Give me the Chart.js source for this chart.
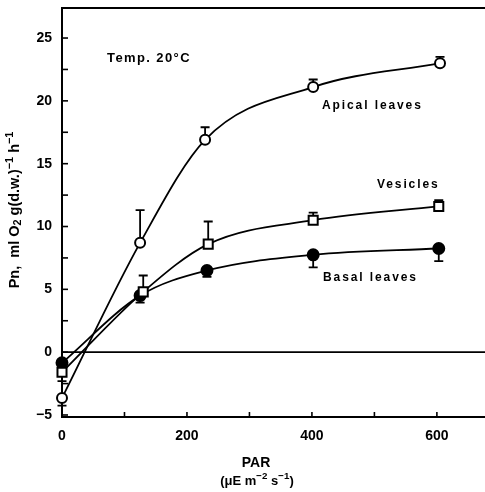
<!DOCTYPE html>
<html><head><meta charset="utf-8">
<script src="https://cdn.jsdelivr.net/npm/chart.js@4/dist/chart.umd.min.js"></script>
<style>html,body{margin:0;padding:0;background:#fff}#wrap{width:485px;height:492px;position:relative}</style>
</head><body><div id="wrap"><canvas id="c" width="485" height="492"></canvas></div>
<script>
// ---- data ----
const seriesNames = ['Apical leaves', 'Vesicles', 'Basal leaves'];
const apicalX = [0, 125, 229, 402, 605];
const apicalY = [-3.65, 8.7, 16.9, 21.1, 23.0];
const apicalErr = [-0.6, 2.6, 1.0, 0.6, 0.5];
const vesiclesX = [0, 130, 234, 402, 603];
const vesiclesY = [-1.6, 4.8, 8.6, 10.5, 11.6];
const vesiclesErr = [-0.7, 1.3, 1.8, 0.6, 0.5];
const basalX = [0, 125, 232, 402, 603];
const basalY = [-0.85, 4.5, 6.5, 7.75, 8.25];
const basalErr = [0, -0.55, -0.5, -1.0, -1.0];
const xTickValues = [0, 200, 400, 600];
const yTickValues = [-5, 0, 5, 10, 15, 20, 25];
const annotationText = 'Temp. 20°C';

const FONT = '"Liberation Sans", Arial, sans-serif';
const pts = (xs, ys) => xs.map((x, i) => ({x: x, y: ys[i]}));

const extras = {
  id: 'extras',
  beforeDatasetsDraw(chart) {
    const ctx = chart.ctx, ys = chart.scales.y, xs = chart.scales.x, a = chart.chartArea;
    ctx.save();
    ctx.strokeStyle = '#000';
    // zero line
    ctx.lineWidth = 1.6;
    const y0 = ys.getPixelForValue(0);
    ctx.beginPath(); ctx.moveTo(a.left, y0); ctx.lineTo(a.right, y0); ctx.stroke();
    // error bars
    ctx.lineWidth = 1.8;
    chart.data.datasets.forEach((ds, i) => {
      const meta = chart.getDatasetMeta(i);
      ds.errors.forEach((e, j) => {
        if (!e) return;
        const p = meta.data[j];
        const yEnd = ys.getPixelForValue(ds.data[j].y + e);
        ctx.beginPath(); ctx.moveTo(p.x, p.y); ctx.lineTo(p.x, yEnd);
        ctx.moveTo(p.x - 4.5, yEnd); ctx.lineTo(p.x + 4.5, yEnd); ctx.stroke();
      });
    });
    ctx.restore();
  },
  afterDraw(chart) {
    const ctx = chart.ctx, ys = chart.scales.y, xs = chart.scales.x, a = chart.chartArea;
    ctx.save();
    ctx.strokeStyle = '#000'; ctx.fillStyle = '#000';
    // top frame line
    ctx.lineWidth = 2;
    ctx.beginPath(); ctx.moveTo(a.left - 1, a.top); ctx.lineTo(a.right, a.top); ctx.stroke();
    // inward ticks
    ctx.lineWidth = 1.6;
    for (let v = -5; v <= 25; v += 2.5) {
      const y = ys.getPixelForValue(v);
      ctx.beginPath(); ctx.moveTo(a.left, y); ctx.lineTo(a.left + 6, y); ctx.stroke();
    }
    for (let v = 100; v <= 600; v += 100) {
      const x = xs.getPixelForValue(v);
      ctx.beginPath(); ctx.moveTo(x, a.bottom); ctx.lineTo(x, a.bottom - 5); ctx.stroke();
    }
    // annotations
    ctx.textBaseline = 'middle'; ctx.textAlign = 'left';
    ctx.font = 'bold 13px ' + FONT;
    ctx.letterSpacing = '1.4px';
    ctx.fillText(annotationText, 107, 58);
    ctx.font = 'bold 12px ' + FONT;
    ctx.letterSpacing = '1.9px';
    ctx.fillText(seriesNames[0], 322, 106);
    ctx.fillText(seriesNames[1], 377, 185);
    ctx.fillText(seriesNames[2], 323, 278);
    ctx.letterSpacing = '0px';
    // x title
    ctx.textAlign = 'center';
    ctx.font = 'bold 14px ' + FONT;
    ctx.fillText('PAR', 256, 463);
    drawRuns(ctx, [['(\u03BCE m', 1, 0], ['\u22122', 0.75, -5], [' s', 1, 0], ['\u22121', 0.75, -5], [')', 1, 0]], 257, 481, 13);
    // y title (rotated)
    ctx.translate(15, 210); ctx.rotate(-Math.PI / 2);
    drawRuns(ctx, [['Pn,  ml O', 1, 0], ['2', 0.75, 3], [' g(d.w.)', 1, 0], ['\u22121', 0.75, -5], [' h', 1, 0], ['\u22121', 0.75, -5]], 0, 0, 14.5);
    ctx.restore();
  }
};

function drawRuns(ctx, runs, cx, cy, size) {
  ctx.save();
  ctx.textAlign = 'left'; ctx.textBaseline = 'middle';
  let total = 0;
  runs.forEach(r => { ctx.font = 'bold ' + (size * r[1]) + 'px ' + FONT; total += ctx.measureText(r[0]).width; });
  let x = cx - total / 2;
  runs.forEach(r => {
    ctx.font = 'bold ' + (size * r[1]) + 'px ' + FONT;
    ctx.fillText(r[0], x, cy + r[2]);
    x += ctx.measureText(r[0]).width;
  });
  ctx.restore();
}

const common = {borderColor: '#000', borderWidth: 1.8, showLine: true, fill: false,
  cubicInterpolationMode: 'monotone', clip: false, pointBorderColor: '#000', pointBorderWidth: 2};

new Chart(document.getElementById('c'), {
  type: 'scatter',
  data: {
    datasets: [
      Object.assign({}, common, {label: seriesNames[0], data: pts(apicalX, apicalY), errors: apicalErr,
        pointStyle: 'circle', pointRadius: 5, pointBackgroundColor: '#fff'}),
      Object.assign({}, common, {label: seriesNames[1], data: pts(vesiclesX, vesiclesY), errors: vesiclesErr,
        pointStyle: 'rect', pointRadius: 6.4, pointBackgroundColor: '#fff'}),
      Object.assign({}, common, {label: seriesNames[2], data: pts(basalX, basalY), errors: basalErr,
        pointStyle: 'circle', pointRadius: 5.5, pointBackgroundColor: '#000'})
    ]
  },
  options: {
    responsive: false, animation: false, devicePixelRatio: 1,
    layout: {autoPadding: false, padding: {top: 8, right: 0, left: 0, bottom: 0}},
    plugins: {legend: {display: false}, tooltip: {enabled: false}},
    scales: {
      x: {type: 'linear', min: 0, max: 677,
        afterFit: s => { s.height = 75; s.paddingLeft = 0; s.paddingRight = 0; },
        afterBuildTicks: s => { s.ticks = xTickValues.map(v => ({value: v})); },
        grid: {display: false, drawTicks: false},
        border: {display: true, color: '#000', width: 2},
        ticks: {color: '#000', padding: 11, maxRotation: 0, font: {family: FONT, size: 14, weight: 'bold'}}},
      y: {type: 'linear', min: -5.16, max: 27.39,
        afterFit: s => { s.width = 62; s.paddingTop = 0; s.paddingBottom = 0; },
        afterBuildTicks: s => { s.ticks = yTickValues.map(v => ({value: v})); },
        grid: {display: false, drawTicks: false},
        border: {display: true, color: '#000', width: 2},
        ticks: {color: '#000', padding: 10, font: {family: FONT, size: 14, weight: 'bold'},
          callback: v => (v < 0 ? '\u2212' + Math.abs(v) : String(v))}}
    }
  },
  plugins: [extras]
});
</script></body></html>
